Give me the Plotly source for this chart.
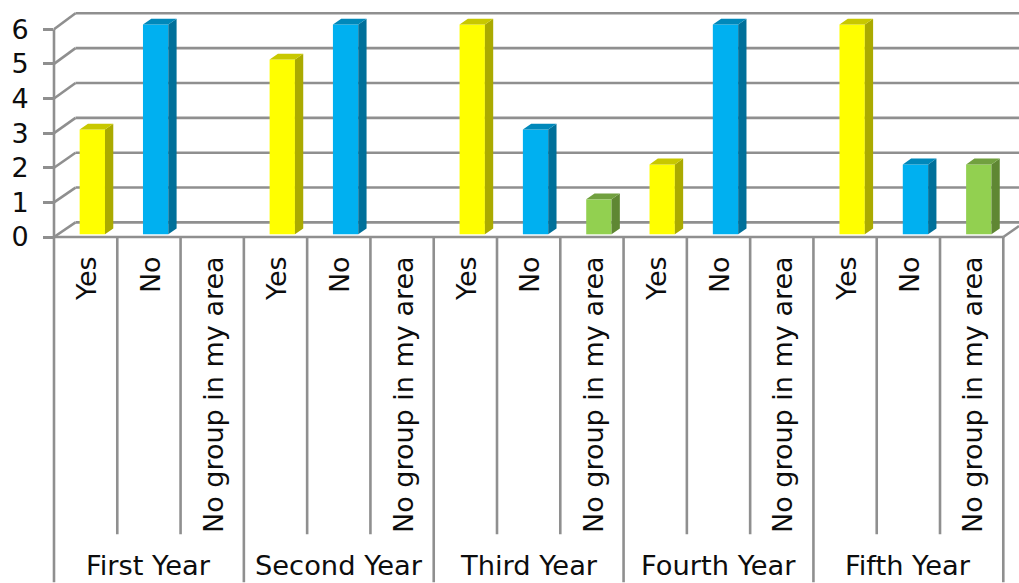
import plotly.graph_objects as go

years = ["First Year", "Second Year", "Third Year", "Fourth Year", "Fifth Year"]
options = ["Yes", "No", "No group in my area"]
yes_values = [3, 5, 6, 2, 6]
no_values = [6, 6, 3, 6, 2]
no_group_values = [0, 0, 1, 0, 2]
y_ticks = [0, 1, 2, 3, 4, 5, 6]

W, H = 1019, 583
LEFT, FLOOR, RIGHT_END = 54.3, 237.3, 1003.3
CAT = (RIGHT_END - LEFT) / 15
UNIT = 34.67
BACK_DX, BACK_DY, BACK_UNIT = 21.5, 14.6, 34.9
GRID = "#8F8F8F"
FONT = "DejaVu Sans"
TEXT = "#0d0d0d"
LINE_W = 2.6

# bar scale: zero sits a little in front of the back wall, slightly above the floor edge
BAR_X0, BAR_Y0, BAR_CAT, BAR_UNIT = 92.6, 234.6, 63.3, 35.0
BAR_W = 0.4
DEPTH_X, DEPTH_Y = 8.3 / BAR_CAT, 5.8 / BAR_UNIT

styles = {
    "Yes": ("#FFFF00", "#AAAA00", "#C8C800"),
    "No": ("#00B0F0", "#00709A", "#0088BA"),
    "No group in my area": ("#92D050", "#5F8733", "#71A03F"),
}
series = {"Yes": yes_values, "No": no_values, "No group in my area": no_group_values}

fig = go.Figure()
n_opt = len(options)
for k, opt in enumerate(options):
    xs = [i * n_opt + k for i in range(len(years))]
    ys = series[opt]
    keep = [(x, v) for x, v in zip(xs, ys) if v > 0]
    front, side, top = styles[opt]
    sx, sy, tx, ty = [], [], [], []
    for x, v in keep:
        r, l = x + BAR_W / 2, x - BAR_W / 2
        sx += [r, r + DEPTH_X, r + DEPTH_X, r, None]
        sy += [0, DEPTH_Y, v + DEPTH_Y, v, None]
        tx += [l, l + DEPTH_X, r + DEPTH_X, r, None]
        ty += [v, v + DEPTH_Y, v + DEPTH_Y, v, None]
    fig.add_trace(go.Scatter(x=sx, y=sy, mode="none", fill="toself", fillcolor=side,
                             xaxis="x2", yaxis="y2", hoverinfo="skip"))
    fig.add_trace(go.Scatter(x=tx, y=ty, mode="none", fill="toself", fillcolor=top,
                             xaxis="x2", yaxis="y2", hoverinfo="skip"))
    fig.add_trace(go.Bar(x=[p[0] for p in keep], y=[p[1] for p in keep], width=BAR_W,
                         name=opt, marker=dict(color=front, line=dict(width=0)),
                         xaxis="x2", yaxis="y2"))

plot_w = W - LEFT


def px(x):
    return (x - LEFT) / plot_w


def py(y):
    return (FLOOR - y) / FLOOR


shapes = []


def seg(x0, y0, x1, y1):
    shapes.append(dict(type="line", xref="paper", yref="paper", layer="below",
                       x0=px(x0), y0=py(y0), x1=px(x1), y1=py(y1),
                       line=dict(color=GRID, width=LINE_W)))


for v in y_ticks:
    fy = FLOOR - UNIT * v
    by = FLOOR - BACK_DY - BACK_UNIT * v
    seg(LEFT, fy, LEFT + BACK_DX, by)
    seg(LEFT + BACK_DX, by, W, by)
seg(LEFT, FLOOR, RIGHT_END, FLOOR)
seg(RIGHT_END, FLOOR, W, FLOOR - 11)
seg(LEFT, FLOOR - UNIT * 6, LEFT, H)
for c in range(1, 16):
    seg(LEFT + CAT * c, FLOOR, LEFT + CAT * c, H if c % 3 == 0 else 535)

annotations = [
    dict(text=year, xref="x", yref="paper", x=(i + 0.5) * n_opt, y=py(566),
         xanchor="center", yanchor="middle", showarrow=False,
         font=dict(family=FONT, size=27.3, color=TEXT))
    for i, year in enumerate(years)
]

tick_x = [i + 0.53 for i in range(len(years) * n_opt)]
tick_text = options * len(years)

fig.update_layout(
    width=W, height=H, margin=dict(l=LEFT, r=0, t=0, b=H - FLOOR, pad=0, autoexpand=False),
    paper_bgcolor="white", plot_bgcolor="white", showlegend=False, barmode="overlay",
    shapes=shapes, annotations=annotations,
    font=dict(family=FONT, color=TEXT),
    xaxis=dict(range=[0, plot_w / CAT], tickmode="array", tickvals=tick_x, ticktext=tick_text,
               tickangle=-90, tickfont=dict(family=FONT, size=27, color=TEXT),
               showgrid=False, zeroline=False, showline=False, ticks="", ticklabelstandoff=13),
    yaxis=dict(range=[0, FLOOR / UNIT], tickmode="array", tickvals=y_ticks,
               tickfont=dict(family=FONT, size=27, color=TEXT), showgrid=False, zeroline=False,
               showline=False, ticks="outside", ticklen=10, tickwidth=LINE_W, tickcolor=GRID,
               ticklabelstandoff=9),
    xaxis2=dict(overlaying="x", anchor="y2", visible=False,
                range=[(LEFT - BAR_X0) / BAR_CAT, (W - BAR_X0) / BAR_CAT]),
    yaxis2=dict(overlaying="y", anchor="x2", visible=False,
                range=[(BAR_Y0 - FLOOR) / BAR_UNIT, BAR_Y0 / BAR_UNIT]),
)

fig.write_html("out.html", config={"displayModeBar": False},
               post_script="document.body.style.margin='0';document.body.style.overflow='hidden';")
